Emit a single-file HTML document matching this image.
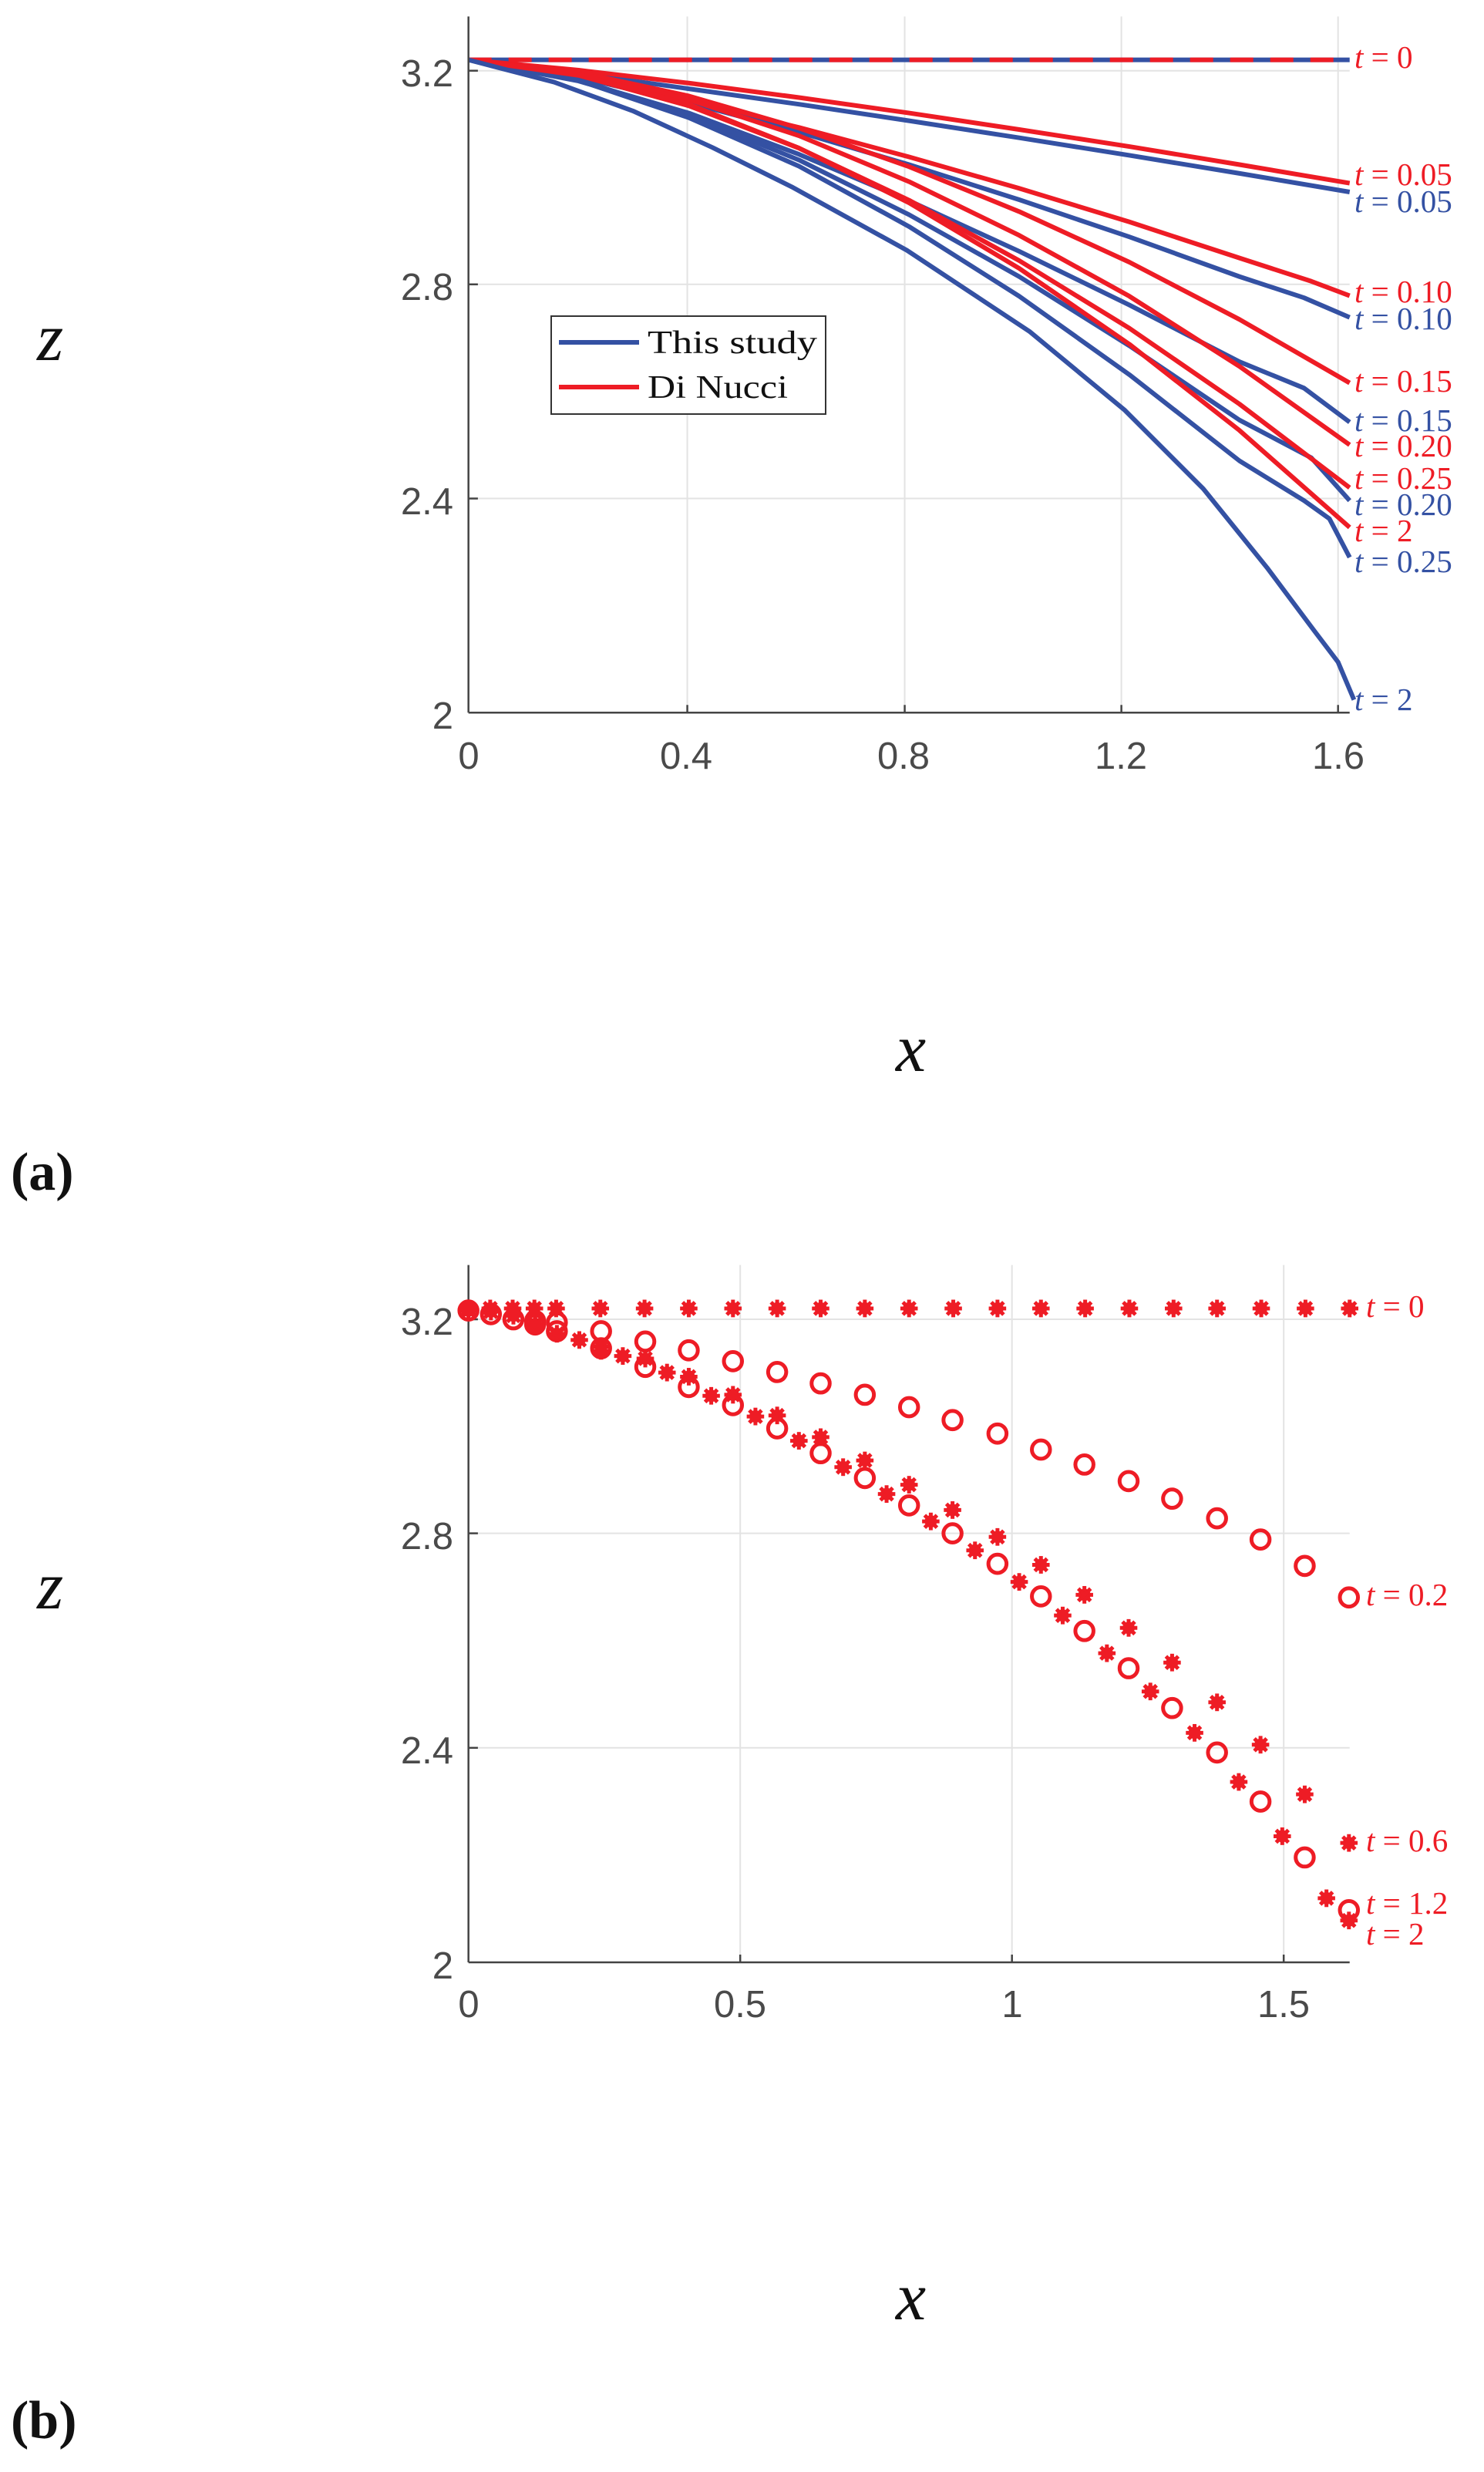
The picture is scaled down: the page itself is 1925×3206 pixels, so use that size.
<!DOCTYPE html>
<html><head><meta charset="utf-8"><style>
html,body{margin:0;padding:0;background:#fff;}
svg{display:block;}
.tk{font-family:"Liberation Sans",sans-serif;font-size:49px;fill:#4a4a4a;}
.lb{font-family:"Liberation Serif",serif;font-size:41px;}
.lg{font-family:"Liberation Serif",serif;font-size:42px;fill:#111;}
.ax{font-family:"Liberation Serif",serif;font-style:italic;font-size:88px;fill:#111;}
.pl{font-family:"Liberation Serif",serif;font-weight:bold;font-size:70px;fill:#111;}
.c{fill:none;stroke-width:6;vector-effect:non-scaling-stroke;stroke-linejoin:round;}
.b{stroke:#3451a3;} .r{stroke:#ee1c25;}
.g{stroke:#e3e3e3;stroke-width:2;vector-effect:non-scaling-stroke;}
</style></head><body>
<svg width="1925" height="3206" viewBox="0 0 1925 3206" xmlns="http://www.w3.org/2000/svg">
<defs>
<g id="o"><ellipse cx="0" cy="0" rx="12.5" ry="17.7" fill="none" stroke="#ee1c25" stroke-width="5" vector-effect="non-scaling-stroke"/></g>
<g id="s" stroke="#ee1c25" stroke-width="5" fill="#ee1c25">
<ellipse cx="0" cy="0" rx="8.5" ry="12" stroke="none"/>
<line x1="-12" y1="0" x2="12" y2="0" vector-effect="non-scaling-stroke"/>
<line x1="0" y1="-17" x2="0" y2="17" vector-effect="non-scaling-stroke"/>
<line x1="-8.5" y1="-12" x2="8.5" y2="12" vector-effect="non-scaling-stroke"/>
<line x1="-8.5" y1="12" x2="8.5" y2="-12" vector-effect="non-scaling-stroke"/>
</g>
</defs>

<!-- ============ TOP PLOT ============ -->
<g transform="matrix(0.94,0,0,0.6693,450.7,0)">
<line class="g" x1="469" y1="32" x2="469" y2="1381"/>
<line class="g" x1="769" y1="32" x2="769" y2="1381"/>
<line class="g" x1="1068" y1="32" x2="1068" y2="1381"/>
<line class="g" x1="1367" y1="32" x2="1367" y2="1381"/>
<line class="g" x1="167" y1="137" x2="1383" y2="137"/>
<line class="g" x1="167" y1="551" x2="1383" y2="551"/>
<line class="g" x1="167" y1="966" x2="1383" y2="966"/>
<polyline class="c b" points="167,116 1383,116"/>
<polyline class="c r" style="stroke-dasharray:30 22" points="167,116 1383,116"/>
<polyline class="c b" points="167,116 319,142 471,172 623,202 775,234 927,267 1079,301 1231,336 1383,372"/>
<polyline class="c r" points="167,116 319,136 471,161 623,189 775,219 927,251 1079,284 1231,319 1383,355"/>
<polyline class="c r" points="167,116 319,150 471,196 623,247 775,304 927,365 1079,430 1231,500 1330,545 1383,573"/>
<polyline class="c b" points="167,116 319,150 471,199 623,256 775,319 927,387 1079,459 1231,536 1320,577 1383,615"/>
<polyline class="c b" points="167,116 319,157 471,219 623,299 775,389 927,487 1079,591 1231,701 1320,752 1383,818"/>
<polyline class="c b" points="167,116 319,155 471,223 623,310 775,416 927,536 1079,670 1231,814 1330,887 1383,970"/>
<polyline class="c b" points="167,116 319,156 471,228 623,322 775,439 927,574 1079,726 1231,893 1320,970 1355,1005 1383,1080"/>
<polyline class="c r" points="167,116 319,146 471,205 623,287 775,388 927,505 1079,636 1231,783 1383,945"/>
<polyline class="c r" points="167,116 319,140 471,186 623,248 775,323 927,410 1079,508 1231,619 1383,742"/>
<polyline class="c r" points="167,116 319,142 471,193 623,263 775,352 927,456 1079,574 1231,710 1383,862"/>
<polyline class="c r" points="167,116 319,144 471,202 623,287 775,393 927,520 1079,667 1231,834 1383,1022"/>
<polyline class="c b" points="167,116 285,159 394,215 504,286 613,362 772,485 941,642 1072,794 1181,947 1269,1100 1334,1222 1367,1283 1389,1356"/>
<line x1="167" y1="32" x2="167" y2="1381" stroke="#444" stroke-width="2.5" vector-effect="non-scaling-stroke"/>
<line x1="167" y1="1381" x2="1383" y2="1381" stroke="#444" stroke-width="2.5" vector-effect="non-scaling-stroke"/>
<g stroke="#444" stroke-width="2.5">
<line x1="469" y1="1381" x2="469" y2="1366" vector-effect="non-scaling-stroke"/>
<line x1="769" y1="1381" x2="769" y2="1366" vector-effect="non-scaling-stroke"/>
<line x1="1068" y1="1381" x2="1068" y2="1366" vector-effect="non-scaling-stroke"/>
<line x1="1367" y1="1381" x2="1367" y2="1366" vector-effect="non-scaling-stroke"/>
<line x1="167" y1="137" x2="180" y2="137" vector-effect="non-scaling-stroke"/>
<line x1="167" y1="551" x2="180" y2="551" vector-effect="non-scaling-stroke"/>
<line x1="167" y1="966" x2="180" y2="966" vector-effect="non-scaling-stroke"/>
</g>
</g>
<!-- legend -->
<rect x="715" y="410" width="356" height="127" fill="#fff" stroke="#333" stroke-width="2"/>
<line x1="725" y1="444" x2="829" y2="444" stroke="#3451a3" stroke-width="6"/>
<line x1="725" y1="502" x2="829" y2="502" stroke="#ee1c25" stroke-width="6"/>
<text class="lg" x="840" y="458" textLength="220" lengthAdjust="spacingAndGlyphs">This study</text>
<text class="lg" x="840" y="516" textLength="182" lengthAdjust="spacingAndGlyphs">Di Nucci</text>
<g class="tk" text-anchor="end">
<text x="588" y="112">3.2</text><text x="588" y="389">2.8</text><text x="588" y="667">2.4</text><text x="588" y="945">2</text>
</g>
<g class="tk" text-anchor="middle">
<text x="608" y="997">0</text><text x="890" y="997">0.4</text><text x="1172" y="997">0.8</text><text x="1454" y="997">1.2</text><text x="1736" y="997">1.6</text>
</g>
<g class="lb">
<text x="1757" y="88" fill="#ee1c25"><tspan font-style="italic">t</tspan> = 0</text>
<text x="1757" y="240" fill="#ee1c25"><tspan font-style="italic">t</tspan> = 0.05</text>
<text x="1757" y="275" fill="#3451a3"><tspan font-style="italic">t</tspan> = 0.05</text>
<text x="1757" y="392" fill="#ee1c25"><tspan font-style="italic">t</tspan> = 0.10</text>
<text x="1757" y="427" fill="#3451a3"><tspan font-style="italic">t</tspan> = 0.10</text>
<text x="1757" y="508" fill="#ee1c25"><tspan font-style="italic">t</tspan> = 0.15</text>
<text x="1757" y="559" fill="#3451a3"><tspan font-style="italic">t</tspan> = 0.15</text>
<text x="1757" y="592" fill="#ee1c25"><tspan font-style="italic">t</tspan> = 0.20</text>
<text x="1757" y="634" fill="#ee1c25"><tspan font-style="italic">t</tspan> = 0.25</text>
<text x="1757" y="668" fill="#3451a3"><tspan font-style="italic">t</tspan> = 0.20</text>
<text x="1757" y="702" fill="#ee1c25"><tspan font-style="italic">t</tspan> = 2</text>
<text x="1757" y="742" fill="#3451a3"><tspan font-style="italic">t</tspan> = 0.25</text>
<text x="1757" y="921" fill="#3451a3"><tspan font-style="italic">t</tspan> = 2</text>
</g>
<text class="ax" x="48" y="467">z</text>
<text class="ax" x="1162" y="1389">x</text>
<text class="pl" x="14" y="1543">(a)</text>

<!-- ============ BOTTOM PLOT ============ -->
<g transform="matrix(0.94,0,0,0.6704,450.7,1619.2)">
<line class="g" x1="542" y1="32" x2="542" y2="1381"/>
<line class="g" x1="917" y1="32" x2="917" y2="1381"/>
<line class="g" x1="1292" y1="32" x2="1292" y2="1381"/>
<line class="g" x1="167" y1="137" x2="1383" y2="137"/>
<line class="g" x1="167" y1="551" x2="1383" y2="551"/>
<line class="g" x1="167" y1="966" x2="1383" y2="966"/>
<line x1="167" y1="32" x2="167" y2="1381" stroke="#444" stroke-width="2.5" vector-effect="non-scaling-stroke"/>
<line x1="167" y1="1381" x2="1383" y2="1381" stroke="#444" stroke-width="2.5" vector-effect="non-scaling-stroke"/>
<g stroke="#444" stroke-width="2.5">
<line x1="542" y1="1381" x2="542" y2="1366" vector-effect="non-scaling-stroke"/>
<line x1="917" y1="1381" x2="917" y2="1366" vector-effect="non-scaling-stroke"/>
<line x1="1292" y1="1381" x2="1292" y2="1366" vector-effect="non-scaling-stroke"/>
<line x1="167" y1="137" x2="180" y2="137" vector-effect="non-scaling-stroke"/>
<line x1="167" y1="551" x2="180" y2="551" vector-effect="non-scaling-stroke"/>
<line x1="167" y1="966" x2="180" y2="966" vector-effect="non-scaling-stroke"/>
</g>
<use href="#s" x="167" y="116"/><use href="#s" x="197" y="116"/><use href="#s" x="228" y="116"/><use href="#s" x="258" y="116"/><use href="#s" x="288" y="116"/><use href="#s" x="349" y="116"/><use href="#s" x="410" y="116"/><use href="#s" x="471" y="116"/><use href="#s" x="532" y="116"/><use href="#s" x="593" y="116"/><use href="#s" x="653" y="116"/><use href="#s" x="714" y="116"/><use href="#s" x="775" y="116"/><use href="#s" x="836" y="116"/><use href="#s" x="897" y="116"/><use href="#s" x="957" y="116"/><use href="#s" x="1018" y="116"/><use href="#s" x="1079" y="116"/><use href="#s" x="1140" y="116"/><use href="#s" x="1200" y="116"/><use href="#s" x="1261" y="116"/><use href="#s" x="1322" y="116"/><use href="#s" x="1383" y="116"/>
<use href="#s" x="167" y="120"/><use href="#s" x="198" y="122"/><use href="#s" x="229" y="130"/><use href="#s" x="259" y="146"/><use href="#s" x="289" y="165"/><use href="#s" x="350" y="190"/><use href="#s" x="411" y="213"/><use href="#s" x="471" y="248"/><use href="#s" x="532" y="283"/><use href="#s" x="593" y="323"/><use href="#s" x="653" y="365"/><use href="#s" x="714" y="410"/><use href="#s" x="775" y="457"/><use href="#s" x="835" y="506"/><use href="#s" x="897" y="558"/><use href="#s" x="957" y="612"/><use href="#s" x="1017" y="670"/><use href="#s" x="1078" y="734"/><use href="#s" x="1138" y="801"/><use href="#s" x="1200" y="878"/><use href="#s" x="1260" y="960"/><use href="#s" x="1321" y="1056"/><use href="#s" x="1382" y="1150"/>
<use href="#s" x="259" y="150"/><use href="#s" x="320" y="177"/><use href="#s" x="350" y="198"/><use href="#s" x="380" y="208"/><use href="#s" x="441" y="240"/><use href="#s" x="502" y="285"/><use href="#s" x="563" y="325"/><use href="#s" x="623" y="372"/><use href="#s" x="684" y="423"/><use href="#s" x="744" y="475"/><use href="#s" x="805" y="528"/><use href="#s" x="866" y="584"/><use href="#s" x="927" y="645"/><use href="#s" x="987" y="710"/><use href="#s" x="1048" y="783"/><use href="#s" x="1108" y="857"/><use href="#s" x="1169" y="937"/><use href="#s" x="1230" y="1032"/><use href="#s" x="1290" y="1137"/><use href="#s" x="1351" y="1257"/><use href="#s" x="1382" y="1300"/>
<use href="#o" x="167" y="120"/><use href="#o" x="198" y="127"/><use href="#o" x="229" y="137"/><use href="#o" x="259" y="140"/><use href="#o" x="289" y="143"/><use href="#o" x="350" y="160"/><use href="#o" x="411" y="180"/><use href="#o" x="471" y="197"/><use href="#o" x="532" y="218"/><use href="#o" x="593" y="239"/><use href="#o" x="653" y="261"/><use href="#o" x="714" y="283"/><use href="#o" x="775" y="307"/><use href="#o" x="835" y="332"/><use href="#o" x="897" y="358"/><use href="#o" x="957" y="389"/><use href="#o" x="1017" y="418"/><use href="#o" x="1078" y="450"/><use href="#o" x="1138" y="484"/><use href="#o" x="1200" y="522"/><use href="#o" x="1260" y="563"/><use href="#o" x="1321" y="614"/><use href="#o" x="1382" y="675"/>
<use href="#o" x="259" y="147"/><use href="#o" x="289" y="160"/><use href="#o" x="350" y="193"/><use href="#o" x="411" y="229"/><use href="#o" x="471" y="268"/><use href="#o" x="532" y="303"/><use href="#o" x="593" y="348"/><use href="#o" x="653" y="396"/><use href="#o" x="714" y="444"/><use href="#o" x="775" y="497"/><use href="#o" x="835" y="551"/><use href="#o" x="897" y="610"/><use href="#o" x="957" y="673"/><use href="#o" x="1017" y="740"/><use href="#o" x="1078" y="812"/><use href="#o" x="1138" y="889"/><use href="#o" x="1200" y="975"/><use href="#o" x="1260" y="1070"/><use href="#o" x="1321" y="1178"/><use href="#o" x="1382" y="1280"/>
</g>
<g class="tk" text-anchor="end">
<text x="588" y="1731">3.2</text><text x="588" y="2009">2.8</text><text x="588" y="2287">2.4</text><text x="588" y="2566">2</text>
</g>
<g class="tk" text-anchor="middle">
<text x="608" y="2616">0</text><text x="960" y="2616">0.5</text><text x="1313" y="2616">1</text><text x="1665" y="2616">1.5</text>
</g>
<g class="lb" fill="#ee1c25">
<text x="1772" y="1708"><tspan font-style="italic">t</tspan> = 0</text>
<text x="1772" y="2082"><tspan font-style="italic">t</tspan> = 0.2</text>
<text x="1772" y="2401"><tspan font-style="italic">t</tspan> = 0.6</text>
<text x="1772" y="2482"><tspan font-style="italic">t</tspan> = 1.2</text>
<text x="1772" y="2522"><tspan font-style="italic">t</tspan> = 2</text>
</g>
<text class="ax" x="48" y="2086">z</text>
<text class="ax" x="1162" y="3008">x</text>
<text class="pl" x="14" y="3162">(b)</text>
</svg>
</body></html>
